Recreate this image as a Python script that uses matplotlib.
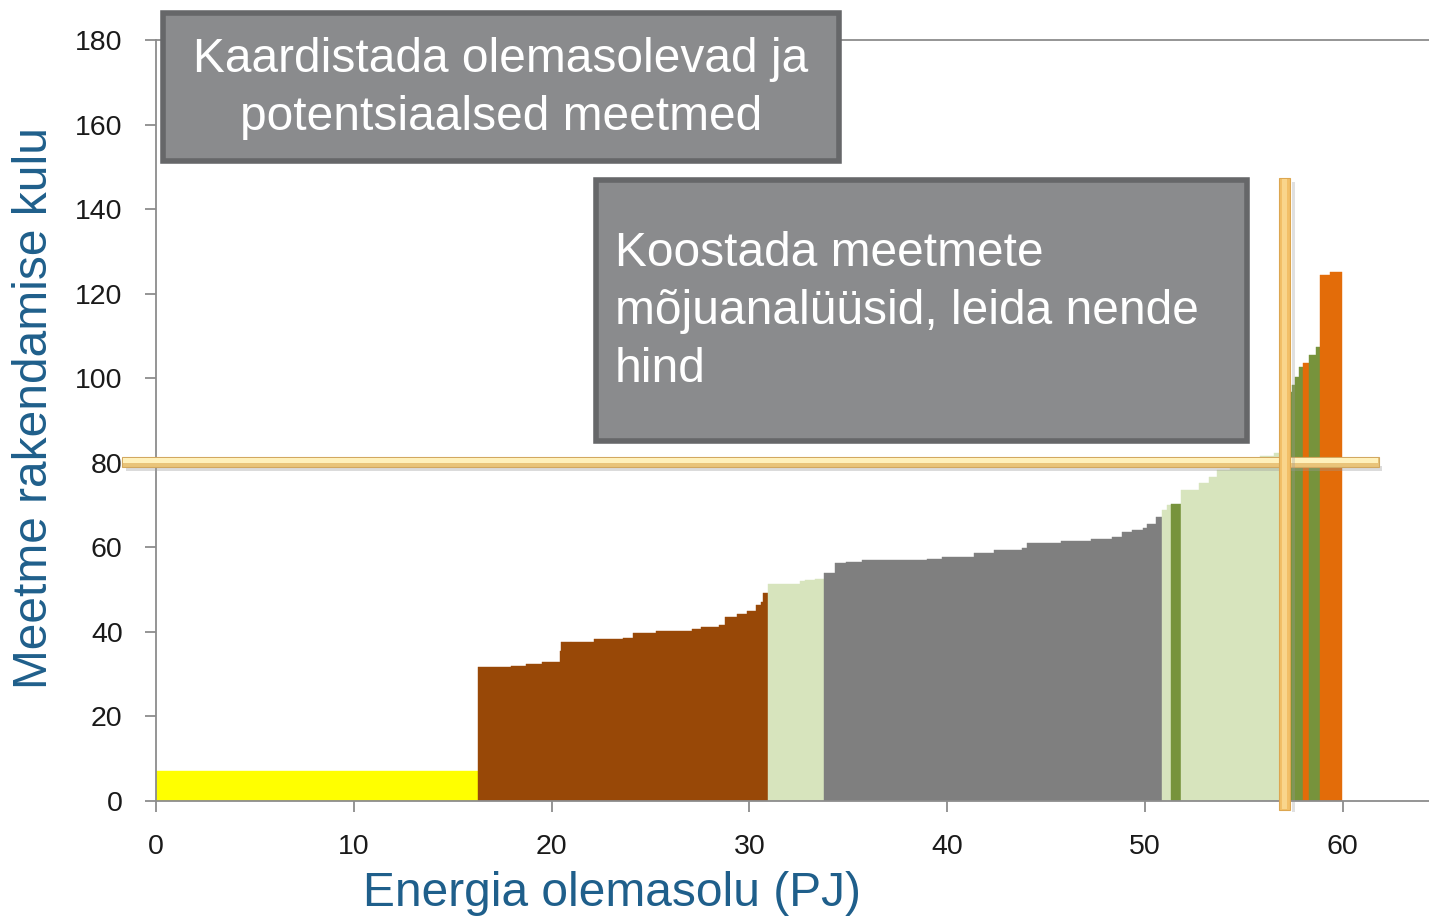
import numpy as np
import matplotlib.pyplot as plt
from matplotlib.patches import Rectangle

# step curve data: x edges (PJ) and heights (cost) per group
yellow_x = [0, 16.3]
yellow_h = [7.1]
brown_x = [16.3, 17.93, 18.7, 19.5, 20.42, 20.5, 20.96, 22.16, 23.63, 24.1, 25.28,
           27.08, 27.55, 28.45, 28.77, 29.39, 29.86, 30.32, 30.59, 30.71, 30.92]
brown_h = [31.6, 31.9, 32.4, 32.9, 35.5, 37.5, 37.7, 38.3, 38.6, 39.7, 40.1, 40.6,
           41.1, 41.6, 43.5, 44.2, 44.9, 46.3, 47.1, 49.1]
lgreen1_x = [30.92, 32.56, 32.81, 33.3, 33.77]
lgreen1_h = [51.3, 52.0, 52.3, 52.6]
gray_x = [33.77, 34.33, 34.88, 35.71, 38.96, 39.72, 41.37, 42.38, 43.76, 44.05, 45.78,
          47.25, 48.35, 48.82, 49.32, 49.88, 50.08, 50.58, 50.84]
gray_h = [53.9, 56.4, 56.6, 56.9, 57.3, 57.7, 58.6, 59.4, 59.9, 61.1, 61.6, 62.0,
          62.4, 63.7, 64.1, 64.5, 65.5, 67.1]
lgreen2_x = [50.84, 51.1, 51.34]
lgreen2_h = [68.8, 70.0]
dgreen1_x = [51.34, 51.8]
dgreen1_h = [70.2]
lgreen3_x = [51.8, 52.75, 53.25, 53.66, 54.3, 55.0, 55.8, 56.5, 57.0]
lgreen3_h = [73.6, 75.3, 76.7, 78.3, 79.5, 80.5, 81.5, 82.4]
dgreen2_x = [57.0, 57.41, 57.58, 57.78, 58.0]
dgreen2_h = [96.8, 98.4, 100.4, 102.7]
orange1_x = [58.0, 58.3]
orange1_h = [103.7]
dgreen3_x = [58.3, 58.67, 58.85]
dgreen3_h = [105.6, 107.5]
orange2_x = [58.85, 59.35, 59.94]
orange2_h = [124.4, 125.1]

YELLOW = "#FFFF00"
BROWN = "#984807"
LGREEN = "#D7E4BD"
GRAY = "#7F7F7F"
DGREEN = "#77933C"
ORANGE = "#E36C09"

groups = [(yellow_x, yellow_h, YELLOW), (brown_x, brown_h, BROWN),
          (lgreen1_x, lgreen1_h, LGREEN), (gray_x, gray_h, GRAY),
          (lgreen2_x, lgreen2_h, LGREEN), (dgreen1_x, dgreen1_h, DGREEN),
          (lgreen3_x, lgreen3_h, LGREEN), (dgreen2_x, dgreen2_h, DGREEN),
          (orange1_x, orange1_h, ORANGE), (dgreen3_x, dgreen3_h, DGREEN),
          (orange2_x, orange2_h, ORANGE)]

W, H = 1429, 921
fig = plt.figure(figsize=(W / 100, H / 100), dpi=100)
ax = fig.add_axes([156 / W, (H - 801) / H, (W - 156) / W, 761 / H])

for xs, hs, c in groups:
    xs = np.array(xs)
    ax.bar(xs[:-1], hs, width=np.diff(xs), align="edge", color=c,
           edgecolor=c, linewidth=0.3)

ax.set_xlim(0, 64.36)
ax.set_ylim(0, 180)
ax.set_xticks(np.arange(0, 61, 10))
ax.set_yticks(np.arange(0, 181, 20))
for s in ["left", "bottom", "top"]:
    ax.spines[s].set_color("#8c8c8c")
    ax.spines[s].set_linewidth(1.3)
ax.spines["right"].set_visible(False)
ax.tick_params(direction="out", length=8, width=1.3, color="#8c8c8c",
               labelsize=20.5, labelcolor="#1a1a1a", pad=16)
for lab in ax.get_xticklabels() + ax.get_yticklabels():
    lab.set_family("Liberation Sans")

blue = "#1F5F8B"
fig.text(35 / W, 1 - 408 / H, "Meetme rakendamise kulu", rotation=90,
         ha="center", va="center", fontsize=34.5, color=blue, family="Liberation Sans")
fig.text(612 / W, 1 - 893 / H, "Energia olemasolu (PJ)", ha="center", va="center",
         fontsize=34.5, color=blue, family="Liberation Sans")

# overlay in pixel coordinates for boxes and highlight bars
ov = fig.add_axes([0, 0, 1, 1], zorder=5)
ov.set_xlim(0, W)
ov.set_ylim(H, 0)
ov.axis("off")
ov.patch.set_alpha(0)

box_face = "#8A8B8D"
box_edge = "#666769"
ov.add_patch(Rectangle((163, 13), 676, 148, facecolor=box_face, edgecolor=box_edge, lw=4))
ov.add_patch(Rectangle((596, 180), 651, 261, facecolor=box_face, edgecolor=box_edge, lw=4))
ov.text(501, 60, "Kaardistada olemasolevad ja", ha="center", va="center",
        fontsize=34.5, color="white", family="Liberation Sans")
ov.text(501, 118, "potentsiaalsed meetmed", ha="center", va="center",
        fontsize=34.5, color="white", family="Liberation Sans")
for i, line in enumerate(["Koostada meetmete", "mõjuanalüüsid, leida nende", "hind"]):
    ov.text(615, 253 + 58 * i, line, ha="left", va="center", fontsize=34.5,
            color="white", family="Liberation Sans")

# horizontal golden bar
ov.add_patch(Rectangle((126, 466), 1256, 5, facecolor="#9a9a9a", alpha=0.35, lw=0))
ov.add_patch(Rectangle((122, 457), 1257, 10, facecolor="#E9C47A", edgecolor="#D2A860", lw=0.8))
ov.add_patch(Rectangle((123, 458), 1255, 5, facecolor="#FFF1BC", lw=0))
# vertical golden bar
ov.add_patch(Rectangle((1292, 182), 3, 630, facecolor="#9a9a9a", alpha=0.3, lw=0))
ov.add_patch(Rectangle((1279, 178), 11, 632, facecolor="#F2BF68", edgecolor="#DCA650", lw=0.8))
ov.add_patch(Rectangle((1282, 179), 5, 630, facecolor="#F9D58C", lw=0))

fig.savefig("out.png", dpi=100)
